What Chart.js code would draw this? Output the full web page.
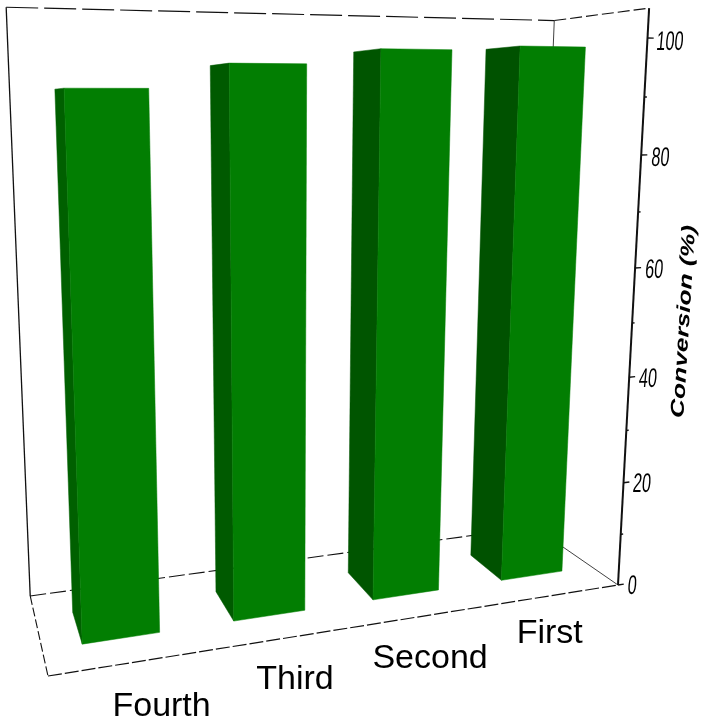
<!DOCTYPE html>
<html>
<head>
<meta charset="utf-8">
<style>html,body{margin:0;padding:0;background:#fff}canvas{display:block}</style>
<script src="https://cdn.jsdelivr.net/npm/chart.js@4"></script>
</head>
<body>
<canvas id="c" width="701" height="720"></canvas>
<script>
const categories = ['Fourth', 'Third', 'Second', 'First'];
const conversion = [91.4, 95.4, 98.0, 98.8];
const axisTitle = 'Conversion (%)';

// Projection of the chart's 3D box to the page (u: 0 right..1 left, v: value/100, w: 0 front..1 back)
const O = [618, 585], PU = [48, 676], PV = [647.5, 38], PW = [534, 527];
const P = -0.157, Q = -0.081, R = 0.137;
function project(u, v, w) {
  const d = 1 + P * u + Q * v + R * w;
  const f = i => (O[i] + u * ((1 + P) * PU[i] - O[i]) + v * ((1 + Q) * PV[i] - O[i]) + w * ((1 + R) * PW[i] - O[i])) / d;
  return [f(0), f(1)];
}
const FRAME_TOP = 1.05, DEPTH_FRONT = 0.29, DEPTH_BACK = 0.70;
const FRONT_COLOR = '#027e02';
const SIDE_COLORS = ['#006000', '#005a00', '#005500', '#005200'];
const LABEL_SHIFT = [[31, 43.5], [10, 41.5], [3.5, 43], [-7, 39]];

function line(ctx, a, b, width, dash) {
  ctx.save();
  ctx.lineWidth = width;
  ctx.strokeStyle = '#111';
  ctx.setLineDash(dash || []);
  ctx.beginPath();
  ctx.moveTo(a[0], a[1]);
  ctx.lineTo(b[0], b[1]);
  ctx.stroke();
  ctx.restore();
}
function poly(ctx, pts, color) {
  ctx.fillStyle = color;
  ctx.strokeStyle = color;
  ctx.lineWidth = 0.5;
  ctx.beginPath();
  pts.forEach((p, i) => i ? ctx.lineTo(p[0], p[1]) : ctx.moveTo(p[0], p[1]));
  ctx.closePath();
  ctx.fill();
  ctx.stroke();
}

const box3d = {
  id: 'box3d',
  beforeDatasetsDraw(chart) {
    const ctx = chart.ctx, a = chart.chartArea;
    const xs = chart.scales.x, ys = chart.scales.y;
    const toU = px => 1 - (px - a.left) / (a.right - a.left);
    const toV = py => (ys.getPixelForValue(0) - py) / (ys.getPixelForValue(0) - ys.getPixelForValue(100));

    // Back walls and floor
    line(ctx, project(1, 0, 1), project(1, FRAME_TOP, 1), 1.3);
    line(ctx, project(1, FRAME_TOP, 1), project(0, FRAME_TOP, 1), 1.2, [32, 6]);
    line(ctx, project(0, FRAME_TOP, 1), project(0, FRAME_TOP, 0), 1.1, [12, 4]);
    line(ctx, project(0, 0, 1), project(0, FRAME_TOP, 1), 0.8);
    line(ctx, project(1, 0, 1), project(0, 0, 1), 1.1, [16, 4]);
    line(ctx, project(0, 0, 1), project(0, 0, 0), 0.8);
    line(ctx, project(1, 0, 1), project(1, 0, 0), 1.1, [9, 3]);
    line(ctx, project(1, 0, 0), project(0, 0, 0), 1.2, [14, 3]);

    // Bars, from the library's own bar elements
    chart.getDatasetMeta(0).data.forEach((bar, i) => {
      const uL = toU(bar.x - bar.width / 2), uR = toU(bar.x + bar.width / 2);
      const v = toV(bar.y), v0 = toV(bar.base);
      poly(ctx, [project(uL, v0, DEPTH_BACK), project(uL, v, DEPTH_BACK), project(uL, v, DEPTH_FRONT), project(uL, v0, DEPTH_FRONT)], SIDE_COLORS[i]);
      poly(ctx, [project(uL, v0, DEPTH_FRONT), project(uL, v, DEPTH_FRONT), project(uR, v, DEPTH_FRONT), project(uR, v0, DEPTH_FRONT)], FRONT_COLOR);
    });

    // Value axis, on the front right vertical edge
    line(ctx, project(0, 0, 0), project(0, FRAME_TOP, 0), 2);
    ctx.fillStyle = '#000';
    ys.ticks.forEach(t => {
      const v = t.value / 100, major = t.value % 20 === 0;
      line(ctx, project(0, v, 0), project(major ? -0.012 : -0.005, v, 0), 1.4);
      if (!major) return;
      const p = project(-0.034, v, 0);
      const nudge = t.value === 100 ? 5 : t.value === 0 ? -2 : 2;
      ctx.save();
      ctx.font = '27px "Liberation Sans"';
      ctx.textAlign = 'center';
      ctx.textBaseline = 'middle';
      ctx.transform(0.6, 0, -0.09, 1, p[0] + nudge, p[1] + 4);
      ctx.fillText(t.label, 0, 0);
      ctx.restore();
    });

    // Axis title
    ctx.save();
    ctx.font = 'italic bold 19px "Liberation Sans"';
    ctx.textAlign = 'center';
    ctx.textBaseline = 'middle';
    ctx.translate(684, 321.5);
    ctx.rotate(-86.5 * Math.PI / 180);
    ctx.scale(193 / ctx.measureText(axisTitle).width, 1);
    ctx.fillText(axisTitle, 0, 0);
    ctx.restore();

    // Category labels
    ctx.save();
    ctx.font = '34px "Liberation Sans"';
    ctx.textAlign = 'center';
    ctx.textBaseline = 'middle';
    xs.ticks.forEach((t, i) => {
      const p = project(toU(xs.getPixelForTick(i)), 0, 0);
      ctx.fillText(categories[i], p[0] + LABEL_SHIFT[i][0], p[1] + LABEL_SHIFT[i][1]);
    });
    ctx.restore();
    return false;
  }
};

new Chart(document.getElementById('c'), {
  type: 'bar',
  data: {
    labels: categories,
    datasets: [{ label: axisTitle, data: conversion, backgroundColor: FRONT_COLOR, categoryPercentage: 1, barPercentage: 0.5 }]
  },
  options: {
    responsive: false,
    animation: false,
    events: [],
    layout: { padding: 0 },
    plugins: { legend: { display: false }, tooltip: { enabled: false } },
    scales: {
      x: { display: false },
      y: { display: false, min: 0, max: 100, ticks: { stepSize: 10, callback: v => (v % 20 === 0 ? String(v) : '') } }
    }
  },
  plugins: [box3d]
});
</script>
</body>
</html>
